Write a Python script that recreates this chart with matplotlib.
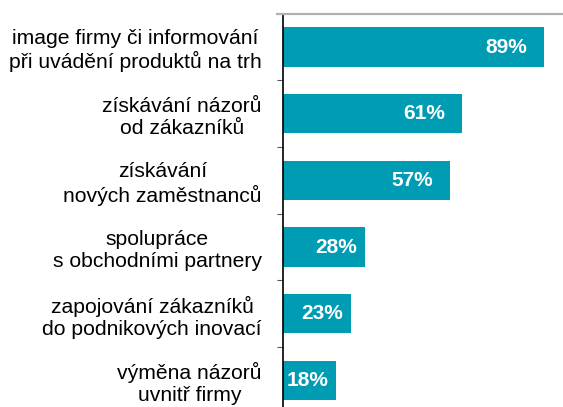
import matplotlib.pyplot as plt
from matplotlib.lines import Line2D

plt.rcParams['font.family'] = ['Liberation Sans', 'DejaVu Sans']

# Data:
categories = [
    "image firmy či informování\npři uvádění produktů na trh",
    "získávání názorů\nod zákazníků",
    "získávání\nnových zaměstnanců",
    "spolupráce\ns obchodními partnery",
    "zapojování zákazníků\ndo podnikových inovací",
    "výměna názorů\nuvnitř firmy",
]
values = [89, 61, 57, 28, 23, 18]

bar_color = "#009cb4"

W, H = 563, 407
fig = plt.figure(figsize=(W / 100, H / 100), dpi=100)
ax_left = 283.3 / W
ax_top = 1 - 13.7 / H
ax_bottom = 1 - 413.7 / H
ax = fig.add_axes([ax_left, ax_bottom, 1 - ax_left, ax_top - ax_bottom])

ypos = list(range(len(categories)))
ax.barh(ypos, values, height=0.59, color=bar_color)

ax.set_xlim(0, (W - 283.3) / 2.933)
ax.set_ylim(len(categories) - 0.5, -0.5)

# Value labels inside the bars
for y, v in zip(ypos, values):
    pad = 17 if v > 40 else 8
    ax.annotate(f"{v}%", xy=(v, y), xytext=(-pad, 0), textcoords="offset pixels",
                ha="right", va="center", color="white", fontsize=15, fontweight="bold")

# Category labels
ax.set_yticks(ypos)
ax.set_yticklabels(categories, fontsize=15.2, linespacing=1.2)
for lab in ax.get_yticklabels():
    lab.set_multialignment("center")
ax.tick_params(axis="y", which="major", length=0, pad=15.5)
ax.set_yticks([i + 0.5 for i in ypos[:-1]], minor=True)
ax.tick_params(axis="y", which="minor", length=4.5, width=0.8, color="#555555")
ax.set_xticks([])

for s in ["right", "bottom", "top"]:
    ax.spines[s].set_visible(False)
ax.spines["left"].set_linewidth(1.2)
ax.spines["left"].set_color("black")

# Gray top line
fig.add_artist(Line2D([277 / W, 1], [1 - 14 / H, 1 - 14 / H], color="#b0b0b0", linewidth=1.6,
                      transform=fig.transFigure))

fig.savefig("out.png", dpi=100)
